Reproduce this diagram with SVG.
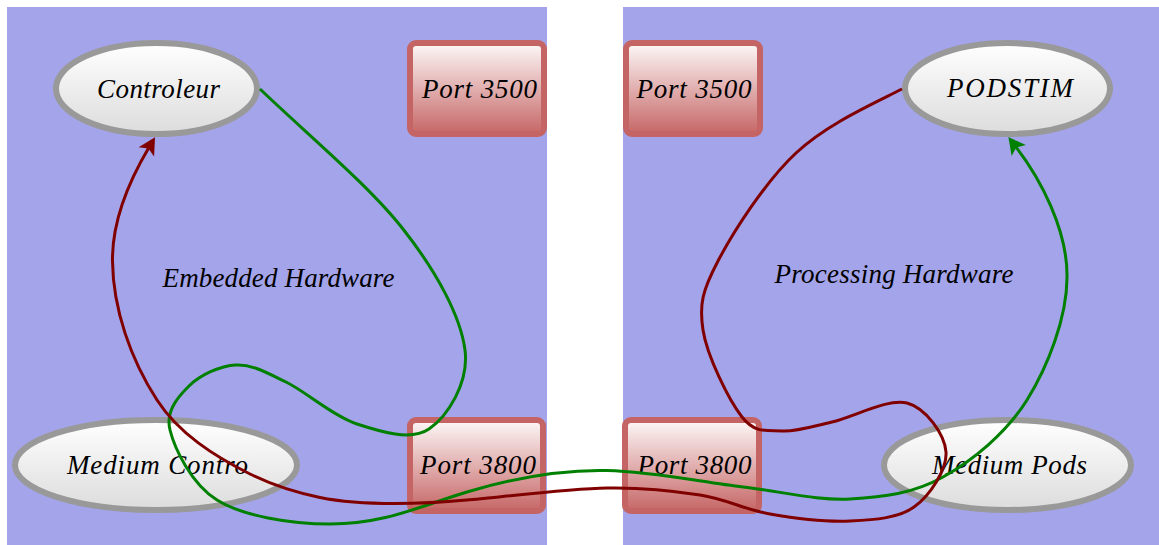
<svg xmlns="http://www.w3.org/2000/svg" width="1159" height="545" viewBox="0 0 1159 545">
  <style>
    .panel { fill: #a4a4eb; }
    .ell { fill: url(#gEll); stroke: #999999; stroke-width: 6; }
    .port { fill: url(#gPort); stroke: #c46464; stroke-width: 6; }
    .t { font-family: "Liberation Serif", "Times New Roman", serif; font-style: italic; font-size: 27px; fill: #000; text-anchor: middle; }
    .cg { fill: none; stroke: #008000; stroke-width: 3; }
    .cr { fill: none; stroke: #800000; stroke-width: 3; }
  </style>
  <defs>
    <linearGradient id="gEll" x1="0" y1="0" x2="0" y2="1">
      <stop offset="0" stop-color="#ffffff"/>
      <stop offset="1" stop-color="#dcdcdc"/>
    </linearGradient>
    <linearGradient id="gPort" x1="0" y1="0" x2="0" y2="1">
      <stop offset="0" stop-color="#fdf8f8"/>
      <stop offset="1" stop-color="#c66666"/>
    </linearGradient>
    <marker id="ahG" markerUnits="userSpaceOnUse" markerWidth="24" markerHeight="24" viewBox="-2 -12 24 24" refX="5" refY="0" orient="auto">
      <path d="M17,0 L0,-9 L4,0 L0,9 Z" fill="#008000"/>
    </marker>
    <marker id="ahR" markerUnits="userSpaceOnUse" markerWidth="24" markerHeight="24" viewBox="-2 -12 24 24" refX="5" refY="0" orient="auto">
      <path d="M17,0 L0,-9 L4,0 L0,9 Z" fill="#800000"/>
    </marker>
  </defs>

  <g id="panels">
    <rect id="embedded-panel" class="panel" x="7" y="7" width="540" height="538"/>
    <rect id="processing-panel" class="panel" x="623" y="7" width="536" height="538"/>
    <text class="t" x="278.5" y="287" textLength="232">Embedded Hardware</text>
    <text class="t" x="894" y="283" textLength="239">Processing Hardware</text>
  </g>

  <g id="controleur">
    <ellipse class="ell" cx="156.5" cy="88.5" rx="100.5" ry="45.5"/>
    <text class="t" x="158.5" y="98" textLength="123">Controleur</text>
  </g>
  <g id="port3500-left">
    <rect class="port" x="410" y="43" width="134" height="91" rx="6"/>
    <text class="t" x="479.5" y="98" textLength="115">Port 3500</text>
  </g>
  <g id="medium-contro">
    <ellipse class="ell" cx="156" cy="465" rx="141" ry="45"/>
    <text class="t" x="157.5" y="474" textLength="181">Medium Contro</text>
  </g>
  <g id="port3800-left">
    <rect class="port" x="410" y="420" width="133" height="91" rx="6"/>
    <text class="t" x="478" y="474" textLength="116">Port 3800</text>
  </g>
  <g id="port3500-right">
    <rect class="port" x="626" y="43" width="134" height="91" rx="6"/>
    <text class="t" x="694" y="98" textLength="115">Port 3500</text>
  </g>
  <g id="podstim">
    <ellipse class="ell" cx="1007.5" cy="88.5" rx="102.5" ry="45.5"/>
    <text class="t" x="1010" y="97" textLength="126">PODSTIM</text>
  </g>
  <g id="port3800-right">
    <rect class="port" x="625" y="420" width="134" height="91" rx="6"/>
    <text class="t" x="694.5" y="474" textLength="114">Port 3800</text>
  </g>
  <g id="medium-pods">
    <ellipse class="ell" cx="1007.5" cy="465" rx="123.5" ry="45"/>
    <text class="t" x="1009.5" y="474" textLength="155">Medium Pods</text>
  </g>

  <g id="connectors">
    <path class="cg" marker-end="url(#ahG)" d="M260,89 C308,135 369,185.5 403,229 C437.2,272.5 460.7,316.7 465,350 C469.3,383.3 447,416.7 429,429 C411,441.3 380.8,431.8 357,424 C333.2,416.2 306.2,391.8 286,382 C265.8,372.2 252.2,364.3 236,365 C219.8,365.7 200,375.2 189,386 C178,396.8 165.3,411 170,430 C174.7,449 191.6,484.1 217,500 C242.4,515.9 290,524 330,524 C385,524 419.1,506.4 467,492 C510.1,479.1 562,469.5 607,470.5 C653,471.5 702.5,482.3 743,487 C783.5,491.75 816.7,500.7 850,499 C883.3,497.3 913.5,493.5 943,477 C972.5,460.5 1006.3,433.2 1027,400 C1047.7,366.8 1066.8,318 1067,278 C1068,230 1040,178 1015.7,146.6"/>
    <path class="cr" marker-end="url(#ahR)" d="M902,89 C870.9,104.8 826.7,124.3 796,153 C765.3,181.7 733.5,231.5 718,261 C702.5,290.5 699,304 703,330 C707,356 728.8,400.2 742,417 C755.2,433.8 767,430.2 782,431 C797,431.8 811.2,426.7 832,422 C852.8,417.3 888,398 907,403 C926,408 944.8,434.7 946,452 C947.2,469.3 930,495.5 914,507 C898,518.5 874,519.8 850,521 C826,522.2 795,518.3 770,514 C745,509.7 727.2,499.3 700,495 C672.8,490.7 645.8,487.2 607,488 C568.2,488.8 501.9,496.9 467,500 C442.1,502.3 420,503.5 395,503.5 C370,503.5 344.5,502.5 320,497.5 C295.5,492.5 272.4,485.2 250,474 C214.2,456.1 178.8,433.6 157,400 C130.8,359.7 113,309 112.5,261 C112,216 134.6,171.7 148.9,147.6"/>
  </g>
</svg>
